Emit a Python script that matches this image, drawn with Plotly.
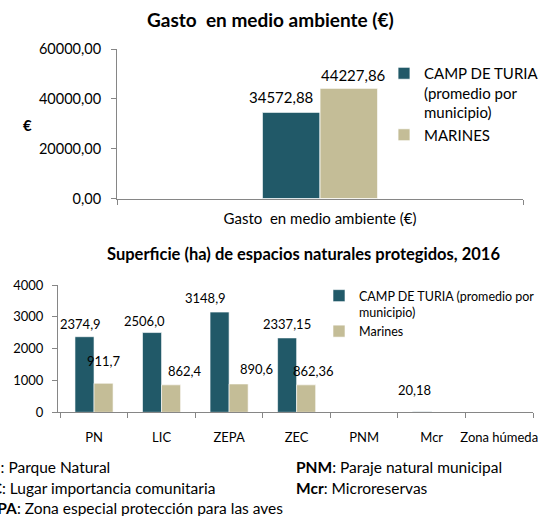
import plotly.graph_objects as go

# ---------------- data ----------------
top_categories = ["Gasto\u00a0 en medio ambiente (€)"]
top_camp = [34572.88]
top_marines = [44227.86]
top_yticks = [0, 20000, 40000, 60000]

bot_categories = ["PN", "LIC", "ZEPA", "ZEC", "PNM", "Mcr", "Zona húmeda"]
bot_camp = [2374.9, 2506.0, 3148.9, 2337.15, None, 20.18, None]
bot_marines = [911.7, 862.4, 890.6, 862.36, None, None, None]
bot_yticks = [0, 1000, 2000, 3000, 4000]

name_camp_top = "CAMP DE TURIA<br>(promedio por<br>municipio)"
name_mar_top = "MARINES"
name_camp_bot = "CAMP DE TURIA (promedio por<br>municipio)"
name_mar_bot = "Marines"

# ---------------- style ----------------
C_CAMP = "#215968"
C_MAR = "#C4BD97"
AX = "#868686"
FONT = "Lato"
W, H = 540, 516

W_TOP = 0.142   # bar width in category units (top)
W_BOT = 0.282   # bar width in category units (bottom)

# label offsets (pixels): (xshift, yshift above bar top)
off_top_camp = [(-10, 15)]
off_top_mar = [(5, 13)]
off_bot_camp = [(-4, 13), (-8, 12), (-14, 14), (0, 14), None, (-8, 22), None]
off_bot_mar = [(0, 22), (14, 14), (18, 15), (7, 14), None, None, None]

fig = go.Figure()

fig.add_trace(go.Bar(x=top_categories, y=top_camp, name=name_camp_top,
                     marker=dict(color=C_CAMP, line=dict(color="white", width=0.8)),
                     width=W_TOP, offset=-W_TOP, xaxis="x", yaxis="y", legend="legend"))
fig.add_trace(go.Bar(x=top_categories, y=top_marines, name=name_mar_top,
                     marker=dict(color=C_MAR, line=dict(color="white", width=0.8)),
                     width=W_TOP, offset=0, xaxis="x", yaxis="y", legend="legend"))

fig.add_trace(go.Bar(x=bot_categories, y=bot_camp, name=name_camp_bot,
                     marker=dict(color=C_CAMP, line=dict(color="white", width=0.6)),
                     width=W_BOT, offset=-W_BOT, xaxis="x2", yaxis="y2", legend="legend2"))
fig.add_trace(go.Bar(x=bot_categories, y=bot_marines, name=name_mar_bot,
                     marker=dict(color=C_MAR, line=dict(color="white", width=0.6)),
                     width=W_BOT, offset=0, xaxis="x2", yaxis="y2", legend="legend2"))

def fmt(v):
    return str(v).replace(".", ",")

annotations = []

def add_labels(vals, offs, sign, w, xref, yref, size):
    for i, (v, o) in enumerate(zip(vals, offs)):
        if v is None or o is None:
            continue
        annotations.append(dict(
            x=i + sign * w / 2, y=v, xref=xref, yref=yref, text=fmt(v),
            showarrow=False, xshift=o[0], yshift=o[1], xanchor="center", yanchor="middle",
            font=dict(family=FONT, size=size, color="#000000")))

add_labels(top_camp, off_top_camp, -1, W_TOP, "x", "y", 15)
add_labels(top_marines, off_top_mar, 1, W_TOP, "x", "y", 15)
add_labels(bot_camp, off_bot_camp, -1, W_BOT, "x2", "y2", 13)
add_labels(bot_marines, off_bot_mar, 1, W_BOT, "x2", "y2", 13)

def paper_text(text, px, py, size, xanchor="center"):
    annotations.append(dict(text=text, x=px / W, y=1 - py / H, xref="paper", yref="paper",
                            xanchor=xanchor, yanchor="middle", showarrow=False, align="left",
                            font=dict(family=FONT, size=size, color="#000000")))

# titles
paper_text("<b>Gasto\u00a0 en medio ambiente (€)</b>", 270, 20, 19)
paper_text("<b>Superficie (ha) de espacios naturales protegidos, 2016</b>", 303, 254, 16.5)
paper_text("<b>€</b>", 27, 125, 15)

# footnotes
foot_left = ["<b>PN</b>: Parque Natural",
             "<b>LIC</b>: Lugar importancia comunitaria",
             "<b>ZEPA</b>: Zona especial protección para las aves"]
foot_right = ["<b>PNM</b>: Paraje natural municipal",
              "<b>Mcr</b>: Microreservas"]
foot_y = [467, 488, 508]
for t, yy in zip(foot_left, foot_y):
    paper_text(t, -23, yy, 15.5, xanchor="left")
for t, yy in zip(foot_right, foot_y):
    paper_text(t, 294, yy, 15.5, xanchor="left")

axis_common = dict(showline=True, linecolor=AX, linewidth=1, ticks="outside", ticklen=5,
                   tickcolor=AX, showgrid=False, zeroline=False, automargin=False)

fig.update_layout(
    width=W, height=H, autosize=False,
    margin=dict(l=0, r=0, t=0, b=0, autoexpand=False),
    paper_bgcolor="white", plot_bgcolor="white",
    barmode="overlay",
    showlegend=True,
    font=dict(family=FONT, color="#000000"),
    xaxis=dict(domain=[117 / W, 523 / W], anchor="y", type="category", tickson="boundaries",
               tickfont=dict(size=15), ticklabelstandoff=6, tickangle=0, **axis_common),
    yaxis=dict(domain=[1 - 198.5 / H, 1 - 49 / H], anchor="x", range=[0, 60000],
               tickvals=top_yticks, tickformat=".2f", tickfont=dict(size=14.5),
               ticklabelstandoff=7, **axis_common),
    xaxis2=dict(domain=[58 / W, 533 / W], anchor="y2", type="category", tickson="boundaries",
                tickfont=dict(size=13), ticklabelstandoff=13, tickangle=0, **axis_common),
    yaxis2=dict(domain=[1 - 412.3 / H, 1 - 285 / H], anchor="x2", range=[0, 4000],
                tickvals=bot_yticks, tickformat="d", tickfont=dict(size=13),
                ticklabelstandoff=6, **axis_common),
    separators=",.",
    legend=dict(x=384 / W, y=1 - 57 / H, xanchor="left", yanchor="top", valign="top",
                bgcolor="rgba(0,0,0,0)", itemwidth=30, tracegroupgap=0,
                font=dict(family=FONT, size=15, color="#000000"), traceorder="normal"),
    legend2=dict(x=319 / W, y=1 - 281 / H, xanchor="left", yanchor="top", valign="top",
                 bgcolor="rgba(0,0,0,0)", itemwidth=30, tracegroupgap=0,
                 font=dict(family=FONT, size=12.5, color="#000000"), traceorder="normal"),
    annotations=annotations,
)

fig.write_html("out.html", config={"displayModeBar": False},
               post_script="document.body.style.margin='0';")
